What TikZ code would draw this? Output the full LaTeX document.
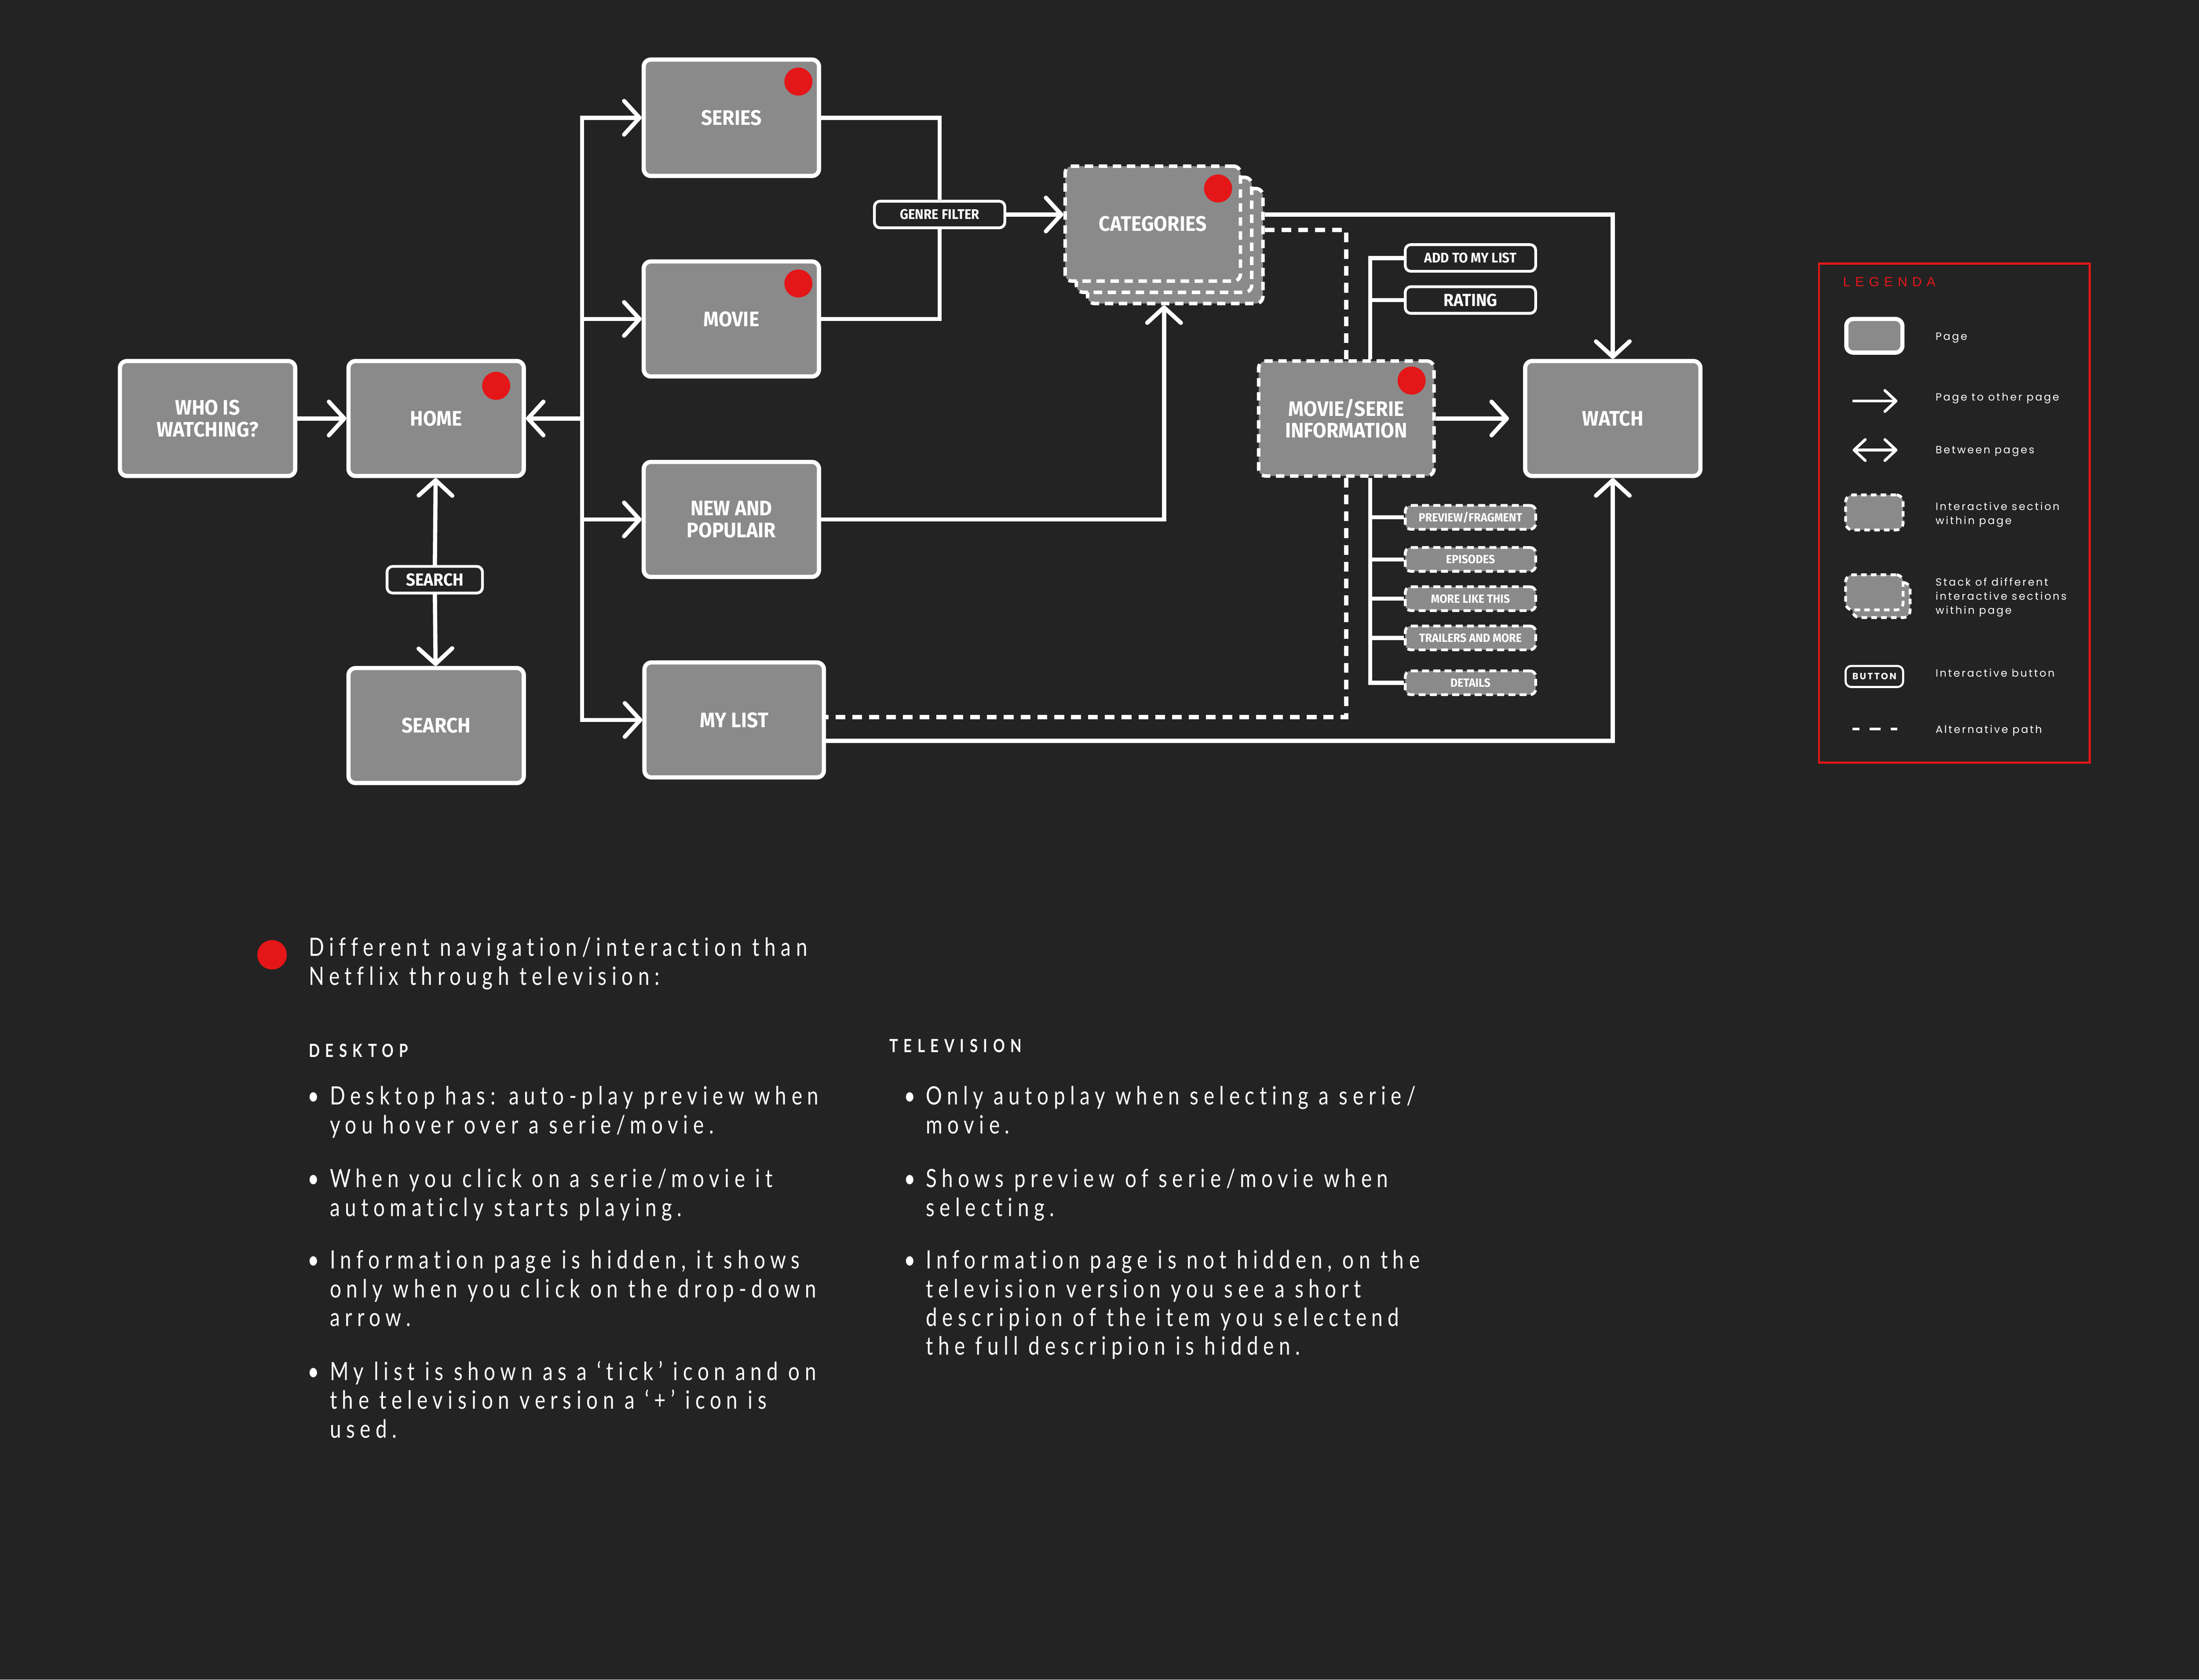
\documentclass[tikz,border=0pt]{standalone}
\usepackage{fontspec}
\setmainfont{Fira Sans}
\newfontfamily\vakfont{Fira Sans}[FakeStretch=0.93]
\newfontfamily\tekstfont{Lato}[FakeStretch=0.8,LetterSpace=20,Ligatures=NoCommon]
\newfontfamily\legfont{Poppins}[LetterSpace=15]
\newfontfamily\titelfont{Liberation Sans}[LetterSpace=36]
\usetikzlibrary{positioning,arrows.meta}
\definecolor{achtergrond}{RGB}{35,35,35}
\definecolor{vakgrijs}{RGB}{138,138,138}
\definecolor{netrood}{RGB}{228,22,24}
\tikzset{
  pagina/.style={draw=white, line width=3pt, fill=vakgrijs, rounded corners=5pt,
    minimum width=125pt, minimum height=82pt, inner sep=0pt, text=white, align=center,
    font=\vakfont\bfseries\fontsize{15}{15.5}\selectfont},
  sectie/.style={pagina, line width=2.5pt, dash pattern=on 6pt off 4pt},
  knop/.style={draw=white, line width=2pt, fill=achtergrond, rounded corners=4pt,
    minimum width=93pt, minimum height=19pt, inner sep=0pt, text=white,
    font=\vakfont\bfseries\fontsize{10}{11}\selectfont},
  subknop/.style={knop, fill=vakgrijs, dash pattern=on 5pt off 3pt, minimum height=17pt,
    font=\vakfont\bfseries\fontsize{8.5}{9}\selectfont},
  stip/.style={circle, fill=netrood, minimum size=20pt, inner sep=0pt},
  lijn/.style={white, line width=3pt},
  pijl/.style={lijn, -{Straight Barb[length=11pt,width=24pt,round]}},
  alt/.style={lijn, dash pattern=on 7pt off 5pt},
  legtekst/.style={text=white, anchor=west, align=left, inner sep=0pt,
    font=\legfont\fontsize{7.5}{10}\selectfont},
  tekst/.style={text=white, anchor=base west, align=left, inner sep=0pt,
    font=\tekstfont\fontsize{18}{20.5}\selectfont},
  kolomkop/.style={text=white, anchor=base west, inner sep=0pt,
    font=\tekstfont\addfontfeature{LetterSpace=30}\bfseries\fontsize{13}{14}\selectfont},
}
\begin{document}
\begin{tikzpicture}[x=1pt, y=-1pt]
\fill[achtergrond] (0,0) rectangle (1568,1198);
\useasboundingbox (0,0) rectangle (1568,1198);

% pagina's
\node[pagina] (who) at (148,298.5) {WHO IS\\WATCHING?};
\node[pagina] (home) at (311,298.5) {HOME};
\node[pagina] (search) at (311,517.5) {SEARCH};
\node[knop, minimum width=68pt, minimum height=19pt, font=\vakfont\bfseries\fontsize{12.5}{13}\selectfont] (zoek) at (310,413.5) {SEARCH};
\node[pagina, minimum height=83pt] (series) at (521.5,84) {SERIES};
\node[pagina] (movie) at (521.5,227.5) {MOVIE};
\node[pagina] (nieuw) at (521.5,370.5) {NEW AND\\POPULAIR};
\node[pagina, minimum width=128pt] (mylist) at (523.5,513.5) {MY LIST};
\node[knop] (genre) at (670,153) {GENRE FILTER};
\node[sectie] (cat3) at (838,175.5) {};
\node[sectie] (cat2) at (830,167.5) {};
\node[sectie] (cat1) at (822,159.5) {CATEGORIES};
\node[sectie] (info) at (960,298.5) {MOVIE/SERIE\\INFORMATION};
\node[pagina] (watch) at (1150,298.5) {WATCH};

% rode stippen
\node[stip, below left=12pt and 14pt of home.north east] {};
\node[stip, below left=10pt and 9pt of series.north east] {};
\node[stip, below left=10pt and 9pt of movie.north east] {};
\node[stip, below left=10pt and 10pt of cat1.north east] {};
\node[stip, below left=8pt and 10pt of info.north east] {};

% knoppen bij informatie
\node[knop] (addlist) at (1048.5,184) {ADD TO MY LIST};
\node[knop, font=\vakfont\bfseries\fontsize{12.5}{13}\selectfont] (rating) at (1048.5,214) {RATING};
\node[subknop] (prev) at (1048.5,369) {PREVIEW/FRAGMENT};
\node[subknop] (ep) at (1048.5,399) {EPISODES};
\node[subknop] (more) at (1048.5,427) {MORE LIKE THIS};
\node[subknop] (trail) at (1048.5,455) {TRAILERS AND MORE};
\node[subknop] (det) at (1048.5,487) {DETAILS};

% verbindingen
\draw[pijl] (who) -- (home);
\coordinate (bus) at (415,298.5);
\draw[pijl] (bus) -- (home.east);
\draw[pijl] (bus) |- (series.west);
\draw[pijl] (bus) |- (mylist.west);
\draw[pijl] (bus |- movie.west) -- (movie.west);
\draw[pijl] (bus |- nieuw.west) -- (nieuw.west);
\draw[pijl] (zoek) -- (home);
\draw[pijl] (zoek) -- (search);
\draw[lijn] (series.east) -| (genre.north);
\draw[lijn] (movie.east) -| (genre.south);
\draw[pijl] (genre.east) -- (genre.east -| cat1.west);
\draw[pijl] (nieuw.east) -| (cat2.south |- cat3.south);
\draw[pijl] (cat3.east |- genre.east) -| (watch.north);
\draw[alt] ([yshift=-11pt]cat3.east |- genre.east) -| (info.north);
\draw[pijl] (info) -- ([xshift=-10pt]watch.west);
\draw[alt] (info.south) |- ([yshift=2pt]mylist.east);
\draw[pijl] ([yshift=-15pt]mylist.east) -| (watch.south);
\coordinate (stam) at ([xshift=17pt]info.north);
\draw[lijn] (stam) |- (addlist);
\draw[lijn] (stam |- rating) -- (rating);
\coordinate (stamb) at ([xshift=17pt]info.south);
\draw[lijn] (stamb) |- (det);
\foreach \s in {prev,ep,more,trail}
  \draw[lijn] (stamb |- \s) -- (\s);

% legenda
\draw[netrood, line width=1.5pt] (1297,188) rectangle (1490,544);
\node[text=netrood, anchor=west, inner sep=0pt, font=\titelfont\fontsize{9.5}{11}\selectfont] (legtitel) at (1314,201) {LEGENDA};
\node[pagina, minimum width=40pt, minimum height=24pt] (lpagina) at (1336.5,239.5) {};
\node[legtekst] at (1380,241) {Page};
\coordinate (la1) at (1321,286);
\coordinate (la2) at (1353,286);
\draw[lijn, line width=2pt, -{Straight Barb[length=8pt,width=15pt,round]}] (la1) -- (la2);
\node[legtekst] at (1380,284) {Page to other page};
\coordinate (lb1) at (1321,321);
\coordinate (lb2) at (1353,321);
\draw[lijn, line width=2pt, {Straight Barb[length=8pt,width=15pt,round]}-{Straight Barb[length=8pt,width=15pt,round]}] (lb1) -- (lb2);
\node[legtekst] at (1380,322) {Between pages};
\node[sectie, minimum width=41pt, minimum height=25pt, line width=2pt, dash pattern=on 4pt off 3pt] (lsectie) at (1336.5,365.5) {};
\node[legtekst] at (1380,367) {Interactive section\\within page};
\node[sectie, minimum width=41pt, minimum height=25pt, line width=2pt, dash pattern=on 4pt off 3pt] (lstapel2) at (1341.5,428) {};
\node[sectie, minimum width=41pt, minimum height=25pt, line width=2pt, dash pattern=on 4pt off 3pt] (lstapel1) at (1336.5,422.5) {};
\node[legtekst] at (1380,426) {Stack of different\\interactive sections\\within page};
\node[knop, minimum width=41pt, minimum height=15pt, line width=1.5pt, font=\legfont\bfseries\fontsize{6.5}{7}\selectfont] (lknop) at (1336.5,482.5) {BUTTON};
\node[legtekst] at (1380,480) {Interactive button};
\coordinate (lc1) at (1321,520);
\coordinate (lc2) at (1353,520);
\draw[lijn, line width=2pt, dash pattern=on 5pt off 7pt on 8pt off 7pt on 5pt off 7pt] (lc1) -- (lc2);
\node[legtekst] at (1380,521) {Alternative path};

% toelichting
\node[stip, minimum size=21pt] (rood) at (194,681) {};
\node[tekst] (vraag) at (220,702.5) {Different navigation/interaction than\\Netflix through television:};
\node[kolomkop] (desktop) at (220,754) {DESKTOP};
\node[kolomkop] (tv) at (634,750.5) {TELEVISION};
\node[tekst] (d1) at (235,808.5) {Desktop has: auto-play preview when\\you hover over a serie/movie.};
\node[tekst] (d2) at (235,867.5) {When you click on a serie/movie it\\automaticly starts playing.};
\node[tekst] (d3) at (235,946) {Information page is hidden, it shows\\only when you click on the drop-down\\arrow.};
\node[tekst] (d4) at (235,1025.5) {My list is shown as a ‘tick’ icon and on\\the television version a ‘+’ icon is\\used.};
\node[tekst] (t1) at (660,808.5) {Only autoplay when selecting a serie/\\movie.};
\node[tekst] (t2) at (660,867.5) {Shows preview of serie/movie when\\selecting.};
\node[tekst] (t3) at (660,966.5) {Information page is not hidden, on the\\television version you see a short\\descripion of the item you selectend\\the full descripion is hidden.};
\foreach \x/\y in {228/788,228/847,228/905,228/984.5,653/788,653/847,653/905}
  \node[tekst, anchor=base east] at (\x,\y) {•};
\end{tikzpicture}
\end{document}
